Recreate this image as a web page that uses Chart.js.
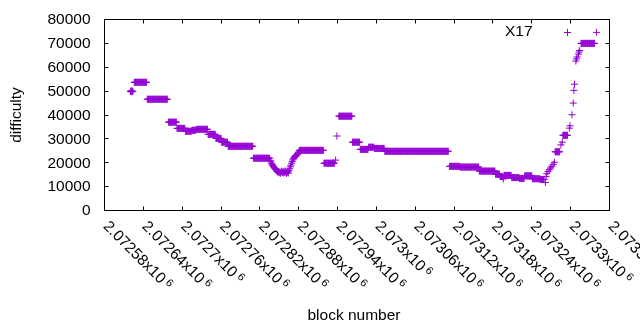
<!DOCTYPE html>
<html>
<head>
<meta charset="utf-8">
<script src="https://cdn.jsdelivr.net/npm/chart.js@4.4.1/dist/chart.umd.min.js"></script>
<style>
html,body{margin:0;padding:0;background:#fff;}
#wrap{width:640px;height:330px;}
</style>
</head>
<body>
<div id="wrap"><canvas id="c" width="640" height="330"></canvas></div>
<script>
// ---- data ----
// runs of constant difficulty (first block, last block, value)
const runStart = [2072626,2072646,2072679,2072692,2072705,2072715,2072722,2072740,2072752,2072761,2072771,2072810,2072881,2072919,2072942,2072963,2072975,2072988,2072997,2073013,2073113,2073129,2073159,2073184,2073191,2073197,2073209,2073221,2073229,2073241,2073253,2073276,2073288,2073316];
const runEnd   = [2072645,2072677,2072691,2072704,2072714,2072721,2072739,2072751,2072760,2072770,2072809,2072835,2072918,2072935,2072962,2072974,2072987,2072996,2073012,2073111,2073128,2073158,2073183,2073190,2073195,2073208,2073220,2073228,2073240,2073252,2073259,2073283,2073295,2073337];
const runValue = [53700,46600,37000,34400,33200,33600,34000,31900,30200,28600,26900,21900,25200,19800,39500,28600,25600,26500,26000,24800,18500,18200,16500,15200,14200,14700,13800,13400,14500,13300,13000,24600,31500,70000];

// individual blocks
const singleBlock = [2072620,2072621,2072622,2072623,2072624,
  2072836,2072837,2072838,2072839,2072840,2072841,2072842,2072843,2072844,2072845,2072846,2072847,2072848,2072849,2072850,
  2072851,2072852,2072853,2072854,2072855,2072856,2072857,2072858,2072859,2072860,2072861,2072862,2072863,2072864,2072865,
  2072866,2072867,2072868,2072869,2072870,2072871,2072872,2072873,2072874,2072875,2072876,2072877,2072878,2072879,2072880,
  2072937,2072939,2073196,
  2073261,2073262,2073263,2073265,2073267,2073269,2073271,2073273,2073275,2073285,2073287,2073298,2073299,2073302,2073304,
  2073305,2073306,2073308,2073309,2073310,2073312,2073313,2073314,2073340];
const singleValue = [49800,50200,49700,50000,49900,
  21000,20400,19800,19300,18800,18400,18000,17600,17300,17000,16600,16300,16000,16400,15800,
  16100,15600,16200,16500,15900,16300,15700,16100,16600,16000,15500,15900,16300,15700,16800,
  17500,18300,19000,19800,20500,21200,21800,22300,22600,23000,22800,23200,23500,24000,24500,
  21100,31200,13200,
  11700,14200,15400,16300,17100,17800,18500,19300,20200,27500,28600,34500,35500,40100,45000,
  50300,52900,62600,63500,64300,65500,66400,67000,74600];

const seriesName = 'X17';
const xTickValues = [2072580,2072640,2072700,2072760,2072820,2072880,2072940,2073000,2073060,2073120,2073180,2073240,2073300,2073360];
const xTickMantissa = ['2.07258','2.07264','2.0727','2.07276','2.07282','2.07288','2.07294','2.073','2.07306','2.07312','2.07318','2.07324','2.0733','2.07336'];
const yTickValues = [0,10000,20000,30000,40000,50000,60000,70000,80000];

// ---- build points ----
const points = [];
for (let i = 0; i < runStart.length; i++) {
  for (let b = runStart[i]; b <= runEnd[i]; b++) points.push({x: b, y: runValue[i]});
}
for (let i = 0; i < singleBlock.length; i++) points.push({x: singleBlock[i], y: singleValue[i]});

const PURPLE = '#9400d3';
const FONT = '"Liberation Sans", Arial, sans-serif';
const FS = 15.5;

const framePlugin = {
  id: 'gnuframe',
  afterDraw(chart) {
    const ctx = chart.ctx, xs = chart.scales.x, ys = chart.scales.y, a = chart.chartArea;
    ctx.save();
    ctx.strokeStyle = '#000';
    ctx.lineWidth = 1;
    ctx.strokeRect(a.left, a.top, a.right - a.left, a.bottom - a.top);
    const T = 4;
    ctx.beginPath();
    yTickValues.forEach(v => {
      const y = Math.round(ys.getPixelForValue(v) - 0.5) + 0.5;
      ctx.moveTo(a.left, y); ctx.lineTo(a.left + T, y);
      ctx.moveTo(a.right, y); ctx.lineTo(a.right - T, y);
    });
    xTickValues.forEach(v => {
      const x = Math.round(xs.getPixelForValue(v) - 0.5) + 0.5;
      ctx.moveTo(x, a.bottom); ctx.lineTo(x, a.bottom - T);
      ctx.moveTo(x, a.top); ctx.lineTo(x, a.top + T);
    });
    ctx.stroke();

    ctx.fillStyle = '#000';
    ctx.font = FS + 'px ' + FONT;
    ctx.textAlign = 'right';
    ctx.textBaseline = 'middle';
    yTickValues.forEach(v => {
      ctx.fillText(String(v), 90.5, ys.getPixelForValue(v) + 0.5);
    });

    xTickValues.forEach((v, i) => {
      const x = xs.getPixelForValue(v);
      ctx.save();
      ctx.translate(x - 2, a.bottom + 16.5);
      ctx.rotate(Math.PI / 4);
      ctx.textAlign = 'left';
      ctx.textBaseline = 'alphabetic';
      ctx.font = FS + 'px ' + FONT;
      const s = xTickMantissa[i] + 'x10';
      ctx.fillText(s, 0, 0);
      const w = ctx.measureText(s).width;
      ctx.font = '11px ' + FONT;
      ctx.fillText('6', w + 3, -4.5);
      ctx.restore();
    });

    ctx.font = FS + 'px ' + FONT;
    ctx.textAlign = 'center';
    ctx.textBaseline = 'alphabetic';
    ctx.fillText('block number', 354, 320);
    ctx.save();
    ctx.translate(17, 115);
    ctx.rotate(-Math.PI / 2);
    ctx.textBaseline = 'middle';
    ctx.fillText('difficulty', 0, 0);
    ctx.restore();

    // key
    ctx.textAlign = 'right';
    ctx.textBaseline = 'middle';
    ctx.fillText(seriesName, 532.5, 32);
    ctx.strokeStyle = PURPLE;
    ctx.beginPath();
    ctx.moveTo(564, 32.5); ctx.lineTo(571, 32.5);
    ctx.moveTo(567.5, 29); ctx.lineTo(567.5, 36);
    ctx.stroke();
    ctx.restore();
  }
};

new Chart(document.getElementById('c'), {
  type: 'scatter',
  data: {
    datasets: [{
      label: seriesName,
      data: points,
      pointStyle: 'cross',
      pointRadius: 3.5,
      pointHoverRadius: 3.5,
      borderColor: PURPLE,
      backgroundColor: PURPLE,
      borderWidth: 1,
      showLine: false,
      clip: false
    }]
  },
  options: {
    responsive: false,
    animation: false,
    events: [],
    layout: { padding: { left: 104.5, right: 30.5, top: 19.5, bottom: 119.5 } },
    plugins: { legend: { display: false }, tooltip: { enabled: false } },
    scales: {
      x: { type: 'linear', min: 2072580, max: 2073360, display: false },
      y: { type: 'linear', min: 0, max: 80000, display: false }
    }
  },
  plugins: [framePlugin]
});
</script>
</body>
</html>
